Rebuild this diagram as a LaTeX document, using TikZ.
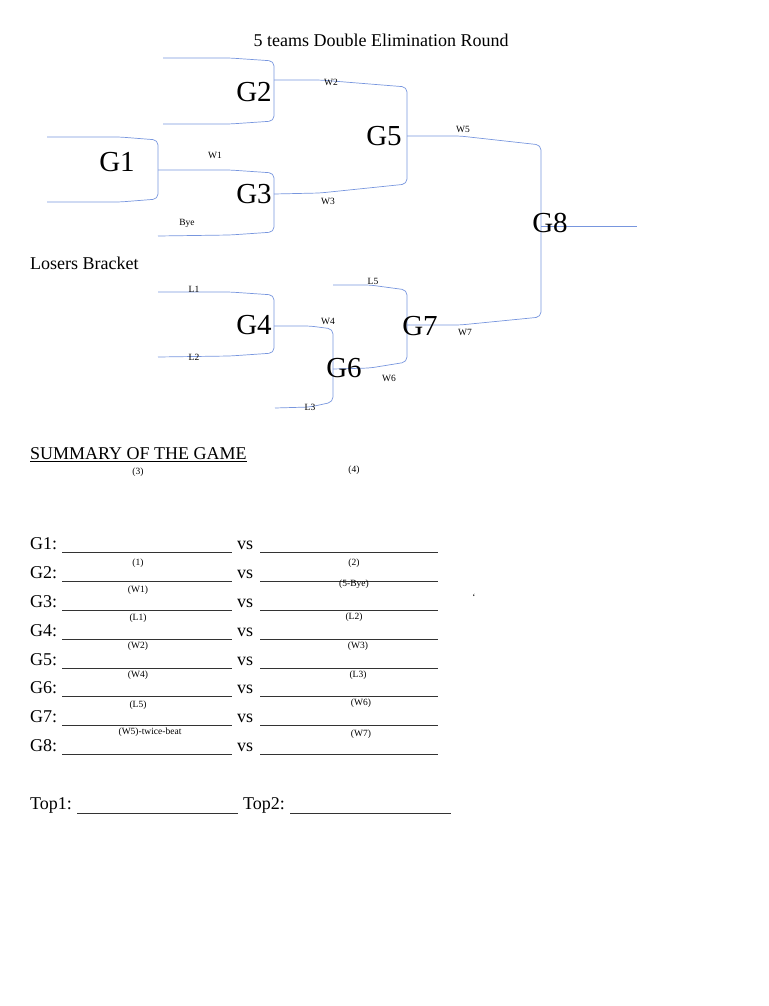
\documentclass[tikz,border=0pt]{standalone}
\usepackage{fontspec}
\setmainfont{Liberation Serif}
\usetikzlibrary{positioning}
\definecolor{bracketblue}{RGB}{120,150,222}
\tikzset{
  bracket/.style={draw=bracketblue, line width=0.7pt, rounded corners=5pt},
  game/.style={font=\fontsize{29}{29}\selectfont, inner sep=0pt},
  tag/.style={font=\fontsize{9.5}{9.5}\selectfont, inner sep=0pt},
  plain/.style={font=\fontsize{18}{18}\selectfont, inner sep=0pt},
  blank/.style={draw=black!80, line width=0.7pt}
}
\begin{document}
\begin{tikzpicture}[x=1pt,y=-1pt]
\useasboundingbox (0,0) rectangle (768,1006);

% heading
\node[plain] (title) at (381,40) {5 teams Double Elimination Round};
\node[plain, anchor=west] (losers) at (30,263) {Losers Bracket};

% winners bracket
\draw[bracket] (47,137) -- (120,137) -- (158,140) -- (158,199) -- (120,202) -- (47,202);
\draw[bracket] (158,170) -- (230,170) -- (274,173) -- (274,232) -- (230,235) -- (158,236);
\draw[bracket] (163,58) -- (230,58) -- (274,61) -- (274,121) -- (230,124) -- (163,124);
\draw[bracket] (274,80) -- (320,80) -- (407,87) -- (407,184) -- (320,193) -- (274,194);
\draw[bracket] (407,136) -- (460,136) -- (541,145) -- (541,317) -- (460,325) -- (407,325);
\draw[bracket] (541,226) -- (637,226);

% losers bracket
\draw[bracket] (158,292) -- (230,292) -- (274,295) -- (274,353) -- (230,356) -- (158,357);
\draw[bracket] (274,326) -- (310,326) -- (333,329) -- (333,402) -- (310,407) -- (275,408);
\draw[bracket] (333,285) -- (370,285) -- (407,290) -- (407,362) -- (370,368) -- (333,369);

% games
\node[game] (g1) at (117,162) {G1};
\node[game] (g2) at (254,92) {G2};
\node[game] (g3) at (254,194) {G3};
\node[game] (g5) at (384,136) {G5};
\node[game] (g8) at (550,223) {G8};
\node[game] (g4) at (254,325) {G4};
\node[game] (g7) at (420,326) {G7};
\node[game] (g6) at (344,368) {G6};

% results
\foreach \pos/\txt in {{(331,82)}/W2, {(215,155)}/W1, {(328,201)}/W3, {(187,223)}/Bye,
  {(463,129)}/W5, {(194,289)}/L1, {(194,357)}/L2, {(328,321)}/W4, {(373,281)}/L5,
  {(465,332)}/W7, {(389,378)}/W6, {(310,407)}/L3}
  \node[tag] at \pos {\txt};

% summary
\node[plain, anchor=west] (summary) at (30,455) {\underline{SUMMARY OF THE GAME}};
\node[tag] (s3) at (138,472) {(3)};
\node[tag] (s4) at (354,470) {(4)};

\foreach \i/\y in {1/544,2/573,3/602,4/631,5/660,6/688,7/717,8/746} {
  \node[plain, anchor=west] (row\i) at (30,\y) {G\i:};
  \node[plain] (vs\i) at (245,\y+1) {vs};
  \draw[blank] (62,\y+8) -- (232,\y+8);
  \draw[blank] (260,\y+8) -- (438,\y+8);
}

\foreach \pos/\txt in {{(138,563)}/(1), {(354,563)}/(2), {(138,590)}/(W1), {(354,584)}/(5-Bye),
  {(138,618)}/(L1), {(354,617)}/(L2), {(138,646)}/(W2), {(358,646)}/(W3),
  {(138,675)}/(W4), {(358,675)}/(L3), {(138,705)}/(L5), {(361,703)}/(W6),
  {(150,732)}/(W5)-twice-beat, {(361,734)}/(W7)}
  \node[tag] at \pos {\txt};
\node[tag] (tick) at (474,597) {`};

% top two
\node[plain, anchor=west] (top1) at (30,805) {Top1:};
\draw[blank] (77,813) -- (238,813);
\node[plain, anchor=west] (top2) at (243,805) {Top2:};
\draw[blank] (290,813) -- (451,813);
\end{tikzpicture}
\end{document}
